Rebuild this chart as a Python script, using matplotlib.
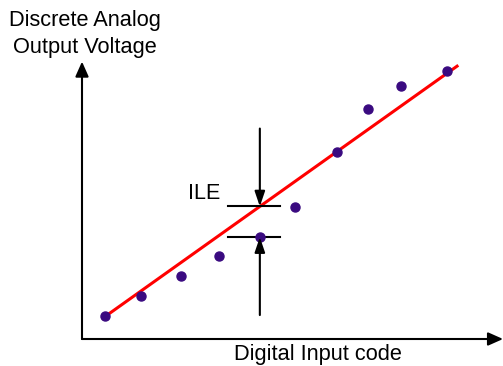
import numpy as np
import matplotlib.pyplot as plt

plt.rcParams['font.family'] = ['Liberation Sans', 'DejaVu Sans']

# Codigos de entrada y voltajes de salida
codigo = np.array([0.6, 1.55, 2.6, 3.6, 4.68, 5.6, 6.7, 7.53, 8.4, 9.6])
voltaje = np.array([0.61, 1.13, 1.66, 2.18, 2.68, 3.47, 4.92, 6.05, 6.66, 7.05])

# Recta ideal (extremos)
recta_x = np.array([0.55, 9.87])
recta_y = np.array([0.55, 7.18])

# Punto donde se marca el ILE
idx_ile = 4

titulo_y = "Discrete Analog\nOutput Voltage"
titulo_x = "Digital Input code"
etiqueta = "ILE"

fig = plt.figure(figsize=(5.03, 3.66), dpi=100)
ax = fig.add_axes([0, 0, 1, 1])
ax.set_xlim(-82 / 38, (503 - 82) / 38)
ax.set_ylim((339 - 366) / 38, 339 / 38)
ax.axis('off')

negro = dict(arrowstyle='-|>,head_length=0.45,head_width=0.2', color='black', lw=1.5,
             mutation_scale=20, shrinkA=0, shrinkB=0)
negro_ile = dict(arrowstyle='-|>,head_length=0.5,head_width=0.17', color='black', lw=1.5,
                 mutation_scale=18, shrinkA=0, shrinkB=0)

# Ejes con flechas
ax.annotate('', xy=(11.08, 0), xytext=(0, 0), arrowprops=negro)
ax.annotate('', xy=(0, 7.3), xytext=(0, 0), arrowprops=negro)

# Recta y puntos
ax.plot(recta_x, recta_y, color='#ff0000', lw=2.2, zorder=2)
ax.plot(codigo, voltaje, 'o', color='#3a0a80', ms=6.5, zorder=3)

# Marcas del ILE
xi = codigo[idx_ile]
pend = (recta_y[1] - recta_y[0]) / (recta_x[1] - recta_x[0])
y_recta = recta_y[0] + pend * (xi - recta_x[0])
y_punto = voltaje[idx_ile]
ax.annotate('', xy=(xi, y_recta), xytext=(xi, y_recta + 2.05), arrowprops=negro_ile)
ax.annotate('', xy=(xi, y_punto), xytext=(xi, y_punto - 2.05), arrowprops=negro_ile)
ax.plot([xi - 0.85, xi + 0.52], [y_recta, y_recta], color='black', lw=1.5)
ax.plot([xi - 0.85, xi + 0.52], [y_punto, y_punto], color='black', lw=1.5)
ax.text(xi - 1.05, y_recta + 0.33, etiqueta, ha='right', va='center', fontsize=15.5)

fig.text(85 / 503, 1 - 10 / 366, titulo_y, ha='center', va='top', fontsize=15.7, linespacing=1.35)
fig.text(318 / 503, 0.002, titulo_x, ha='center', va='bottom', fontsize=15.7)

fig.savefig('out.png', dpi=100)
